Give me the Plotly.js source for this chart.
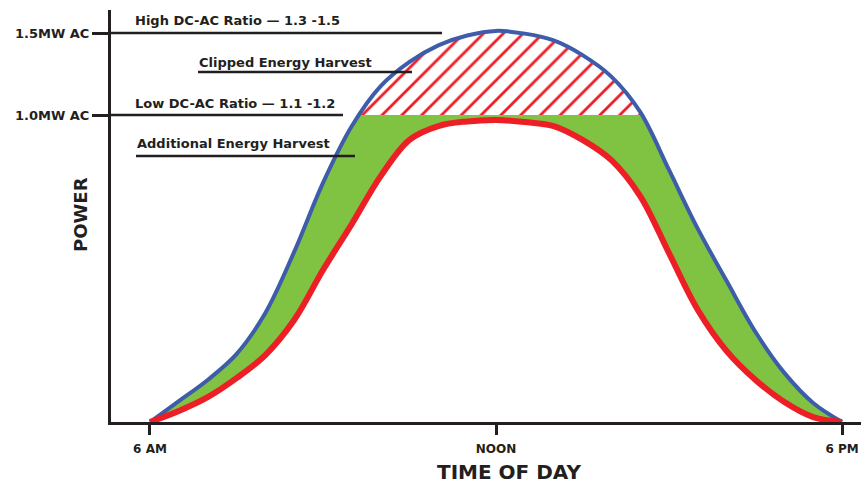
<!DOCTYPE html>
<html>
<head>
<meta charset="utf-8">
<script src="https://cdn.plot.ly/plotly-3.0.1.min.js"></script>
<style>html,body{margin:0;padding:0;background:#fff;}#chart{width:861px;height:483px;}</style>
</head>
<body>
<div id="chart"></div>
<script>
// ---- data (hour of day, relative power where 1.0 = AC inverter limit) ----
const hours = [6.0, 6.5, 7.0, 7.5, 8.0, 8.5, 9.0, 9.5, 10.0, 10.5, 11.0, 11.5, 12.0, 12.5, 13.0, 13.5, 14.0, 14.5, 15.0, 15.5, 16.0, 16.5, 17.0, 17.5, 18.0];
const highRatioPower = [0, 0.068, 0.137, 0.221, 0.355, 0.554, 0.779, 0.964, 1.094, 1.173, 1.227, 1.259, 1.274, 1.265, 1.243, 1.195, 1.125, 1.010, 0.821, 0.629, 0.459, 0.293, 0.160, 0.062, 0];
const lowRatioPower = [0, 0.036, 0.081, 0.143, 0.218, 0.332, 0.495, 0.645, 0.801, 0.919, 0.964, 0.979, 0.984, 0.977, 0.964, 0.919, 0.853, 0.736, 0.550, 0.365, 0.231, 0.137, 0.065, 0.016, 0];
const clipLevel = 1.0;
const xTickVals = [6, 12, 18];
const xTickText = ['6 AM', 'NOON', '6 PM'];
const yTickVals = [1.0, 1.267];
const yTickText = ['1.0MW AC', '1.5MW AC'];

// ---- colours ----
const BLUE = '#3d5ca9', RED = '#ec1f26', GREEN = '#80c241', INK = '#231f20';

// portion of the high-ratio curve above the clip level (clipped energy)
function aboveClip(xs, ys, c) {
  const ox = [], oy = [];
  for (let i = 0; i < xs.length; i++) {
    if (ys[i] > c) {
      if (ox.length === 0 && i > 0) {
        const t = (c - ys[i-1]) / (ys[i] - ys[i-1]);
        ox.push(xs[i-1] + t * (xs[i] - xs[i-1])); oy.push(c);
      }
      ox.push(xs[i]); oy.push(ys[i]);
      if (i + 1 < xs.length && ys[i+1] <= c) {
        const t = (c - ys[i]) / (ys[i+1] - ys[i]);
        ox.push(xs[i] + t * (xs[i+1] - xs[i])); oy.push(c);
      }
    }
  }
  return {x: ox, y: oy};
}
const clipped = aboveClip(hours, highRatioPower, clipLevel);

const traces = [
  {x: hours, y: lowRatioPower, mode: 'lines', line: {width: 0, shape: 'spline', color: RED}, hoverinfo: 'skip'},
  {x: hours, y: highRatioPower, mode: 'lines', line: {width: 0, shape: 'spline', color: BLUE}, fill: 'tonexty', fillcolor: GREEN, hoverinfo: 'skip'},
  {x: [clipped.x[0], clipped.x[clipped.x.length-1]], y: [clipLevel, clipLevel], mode: 'lines', line: {width: 0, color: RED}, hoverinfo: 'skip'},
  {x: clipped.x, y: clipped.y, mode: 'lines', line: {width: 0, shape: 'spline', color: BLUE}, fill: 'tonexty', fillcolor: '#ffffff',
   fillpattern: {shape: '/', fgcolor: RED, bgcolor: '#ffffff', size: 14, solidity: 0.2}, hoverinfo: 'skip'},
  {x: hours, y: highRatioPower, mode: 'lines', line: {width: 4, shape: 'spline', color: BLUE}, hoverinfo: 'skip'},
  {x: hours, y: lowRatioPower, mode: 'lines', line: {width: 6, shape: 'spline', color: RED}, hoverinfo: 'skip'}
];

// pixel helpers for callout layout (plot area: x 111..861, y 10..422)
const fx = px => (px - 111) / 750;
const fy = py => (422 - py) / 412;
const txtFont = {family: 'DejaVu Sans', size: 13, color: INK, weight: 'bold'};

const annotations = [
  {text: 'High DC-AC Ratio — 1.3 -1.5', x: fx(133), y: fy(21)},
  {text: 'Clipped Energy Harvest', x: fx(197), y: fy(62)},
  {text: 'Low DC-AC Ratio — 1.1 -1.2', x: fx(133), y: fy(103)},
  {text: 'Additional Energy Harvest', x: fx(135), y: fy(143)}
].map(a => Object.assign({xref: 'paper', yref: 'paper', xanchor: 'left', yanchor: 'middle', showarrow: false, font: txtFont}, a));

annotations.push({text: 'POWER', xref: 'paper', yref: 'paper', x: fx(80), y: fy(215), textangle: -90, showarrow: false,
  xanchor: 'center', yanchor: 'middle', font: {family: 'DejaVu Sans', size: 18, color: INK, weight: 'bold'}});
annotations.push({text: 'TIME OF DAY', xref: 'paper', yref: 'paper', x: fx(509), y: fy(472), showarrow: false,
  xanchor: 'center', yanchor: 'middle', font: {family: 'DejaVu Sans', size: 20, color: INK, weight: 'bold'}});

const lineStyle = {color: INK, width: 2.5};
const shapes = [
  {type: 'line', xref: 'paper', yref: 'y', x0: 0, x1: fx(442), y0: yTickVals[1], y1: yTickVals[1], line: lineStyle},
  {type: 'line', xref: 'paper', yref: 'y', x0: 0, x1: fx(343), y0: yTickVals[0], y1: yTickVals[0], line: lineStyle},
  {type: 'line', xref: 'paper', yref: 'paper', x0: fx(198), x1: fx(412), y0: fy(72), y1: fy(72), line: lineStyle},
  {type: 'line', xref: 'paper', yref: 'paper', x0: fx(136), x1: fx(355), y0: fy(156), y1: fy(156), line: lineStyle}
];

const layout = {
  width: 861, height: 483,
  margin: {l: 111, r: 0, t: 10, b: 61},
  paper_bgcolor: '#ffffff', plot_bgcolor: '#ffffff',
  showlegend: false,
  xaxis: {range: [5.324, 18.329], showline: true, linecolor: INK, linewidth: 3, ticks: 'outside', ticklen: 10, tickwidth: 3,
    tickcolor: INK, tickvals: xTickVals, ticktext: xTickText, ticklabelstandoff: 4,
    tickfont: {family: 'DejaVu Sans', size: 12, color: INK, weight: 'bold'}, showgrid: false, zeroline: false, fixedrange: true},
  yaxis: {range: [0, 1.342], showline: true, linecolor: INK, linewidth: 3, ticks: 'outside', ticklen: 16, tickwidth: 3,
    tickcolor: INK, tickvals: yTickVals, ticktext: yTickText,
    tickfont: {family: 'DejaVu Sans', size: 13, color: INK, weight: 'bold'}, showgrid: false, zeroline: false, fixedrange: true},
  annotations: annotations,
  shapes: shapes
};

Plotly.newPlot('chart', traces, layout, {staticPlot: true, displayModeBar: false});
</script>
</body>
</html>
